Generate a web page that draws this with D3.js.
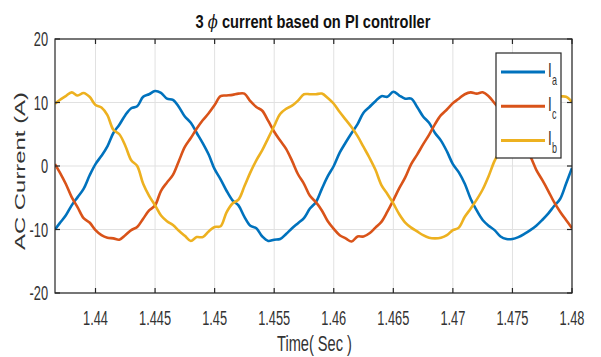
<!DOCTYPE html>
<html>
<head>
<meta charset="utf-8">
<script src="https://cdn.jsdelivr.net/npm/d3@7"></script>
<style>
  body { margin: 0; background: #fff; }
  svg { display: block; }
</style>
</head>
<body>
<div id="chart"></div>
<script>
// time axis (s)
const times = [
  1.4366, 1.437, 1.4375, 1.438, 1.4385, 1.439, 1.4395, 1.44, 1.4405, 1.441, 1.4415,
  1.442, 1.4425, 1.443, 1.4435, 1.444, 1.4445, 1.445, 1.4455, 1.446, 1.4465, 1.447,
  1.4475, 1.448, 1.4485, 1.449, 1.4495, 1.45, 1.4505, 1.451, 1.4515, 1.452, 1.4525,
  1.453, 1.4535, 1.454, 1.4545, 1.455, 1.4555, 1.456, 1.4565, 1.457, 1.4575, 1.458,
  1.4585, 1.459, 1.4595, 1.46, 1.4605, 1.461, 1.4615, 1.462, 1.4625, 1.463, 1.4635,
  1.464, 1.4645, 1.465, 1.4655, 1.466, 1.4665, 1.467, 1.4675, 1.468, 1.4685, 1.469,
  1.4695, 1.47, 1.4705, 1.471, 1.4715, 1.472, 1.4725, 1.473, 1.4735, 1.474, 1.4745,
  1.475, 1.4755, 1.476, 1.4765, 1.477, 1.4775, 1.478, 1.4785, 1.479, 1.4795, 1.48
];

// phase currents (A)
const ia = [
  -10.0, -9.0, -7.8, -6.2, -4.9, -3.6, -1.5, 0.3, 1.6, 3.1, 5.2,
  6.5, 8.0, 9.1, 9.4, 10.9, 11.3, 11.8, 11.5, 10.6, 10.4, 9.3,
  7.8, 6.8, 5.2, 3.6, 1.8, -0.5, -2.1, -3.9, -5.4, -6.2, -8.0,
  -9.4, -9.8, -11.1, -11.8, -11.6, -11.5, -10.7, -9.8, -9.0, -8.2, -6.7,
  -5.7, -3.6, -1.6, 0.0, 2.1, 3.7, 5.2, 6.6, 8.4, 9.3, 10.2,
  11.0, 10.9, 11.7, 11.1, 10.6, 10.6, 9.3, 7.8, 6.8, 5.2, 4.0,
  2.3, 0.3, -1.0, -2.8, -5.2, -7.0, -8.5, -9.4, -10.1, -11.1, -11.5,
  -11.5, -11.2, -10.7, -10.1, -9.4, -8.5, -7.5, -6.3, -5.2, -2.8, -0.3
];
const ic = [
  0.3, -1.0, -2.8, -4.9, -6.5, -8.2, -8.9, -10.1, -10.9, -11.3, -11.4,
  -11.6, -10.9, -10.1, -9.6, -8.3, -7.0, -6.2, -3.9, -2.6, -1.4, 0.8,
  3.0, 4.4, 5.9, 7.2, 8.3, 9.6, 11.0, 11.1, 11.2, 11.4, 11.4,
  10.2, 9.3, 8.7, 7.1, 5.4, 4.0, 2.7, 0.8, -1.3, -2.8, -4.7,
  -5.7, -7.0, -8.7, -9.9, -10.9, -11.4, -11.9, -11.1, -11.1, -10.6, -9.7,
  -8.8, -7.2, -5.4, -3.5, -1.8, 0.3, 1.8, 3.4, 4.9, 6.6, 8.0,
  8.9, 9.9, 10.6, 11.3, 11.6, 11.4, 11.6, 11.0, 9.9, 8.8, 7.6,
  6.0, 4.5, 3.0, 1.5, -0.6, -2.2, -3.9, -5.7, -7.2, -8.5, -9.8
];
const ib = [
  9.8, 10.4, 11.0, 11.6, 11.1, 11.5, 10.9, 9.6, 9.2, 8.0, 5.7,
  5.0, 3.2, 0.9, 0.0, -2.8, -4.7, -6.2, -7.8, -8.7, -9.3, -10.2,
  -11.0, -11.8, -11.2, -11.2, -10.3, -9.6, -9.5, -7.3, -5.9, -5.3, -3.2,
  -1.0, 0.9, 2.5, 4.4, 6.3, 8.2, 9.0, 9.5, 10.3, 11.3, 11.3,
  11.3, 11.4, 10.7, 9.8, 8.5, 7.3, 6.1, 4.7, 3.0, 1.3, -0.6,
  -3.0, -4.4, -5.9, -7.6, -8.9, -9.7, -10.3, -10.9, -11.3, -11.4, -11.3,
  -10.9, -10.1, -9.7, -8.0, -6.7, -5.3, -3.7, -1.6, 0.8, 2.5, 4.3,
  6.0, 7.5, 8.7, 9.7, 10.5, 11.0, 11.4, 11.5, 11.0, 10.9, 10.1
];

const xTicks = [1.44, 1.445, 1.45, 1.455, 1.46, 1.465, 1.47, 1.475, 1.48];
const xTickLabels = ["1.44", "1.445", "1.45", "1.455", "1.46", "1.465", "1.47", "1.475", "1.48"];
const yTicks = [-20, -10, 0, 10, 20];
const yTickLabels = ["-20", "-10", "0", "10", "20"];
const legendSubs = ["a", "c", "b"];

const series = [
  { values: ia, color: "#0072BD", sub: legendSubs[0] },
  { values: ic, color: "#D95319", sub: legendSubs[1] },
  { values: ib, color: "#EDB120", sub: legendSubs[2] }
];

const W = 601, H = 357;
const plot = { left: 55, top: 39, right: 572, bottom: 293 };
const axisColor = "#262626";
const font = "'Liberation Sans', Arial, sans-serif";

const svg = d3.select("#chart").append("svg")
  .attr("width", W)
  .attr("height", H);

svg.append("rect").attr("width", W).attr("height", H).attr("fill", "#fff");

const x = d3.scaleLinear().domain([1.4366, 1.48]).range([plot.left, plot.right]);
const y = d3.scaleLinear().domain([-20, 20]).range([plot.bottom, plot.top]);

// grid
svg.append("g").selectAll("line")
  .data(xTicks)
  .join("line")
  .attr("x1", d => x(d)).attr("x2", d => x(d))
  .attr("y1", plot.top).attr("y2", plot.bottom)
  .attr("stroke", "#e1e1e1").attr("stroke-width", 1);

svg.append("g").selectAll("line")
  .data(yTicks)
  .join("line")
  .attr("x1", plot.left).attr("x2", plot.right)
  .attr("y1", d => y(d)).attr("y2", d => y(d))
  .attr("stroke", "#e1e1e1").attr("stroke-width", 1);

// curves
svg.append("clipPath").attr("id", "clip")
  .append("rect")
  .attr("x", plot.left).attr("y", plot.top)
  .attr("width", plot.right - plot.left).attr("height", plot.bottom - plot.top);

const line = d3.line()
  .x((d, i) => x(times[i]))
  .y(d => y(d))
  .curve(d3.curveCatmullRom.alpha(0.5));

svg.append("g").attr("clip-path", "url(#clip)")
  .selectAll("path")
  .data(series)
  .join("path")
  .attr("d", d => line(d.values))
  .attr("fill", "none")
  .attr("stroke", d => d.color)
  .attr("stroke-width", 2.6)
  .attr("stroke-linejoin", "round");

// box + inward ticks
svg.append("rect")
  .attr("x", plot.left).attr("y", plot.top)
  .attr("width", plot.right - plot.left).attr("height", plot.bottom - plot.top)
  .attr("fill", "none").attr("stroke", axisColor).attr("stroke-width", 1.2);

const tickLen = 5;
const ticks = svg.append("g").attr("stroke", axisColor).attr("stroke-width", 1.2);
xTicks.forEach(t => {
  ticks.append("line").attr("x1", x(t)).attr("x2", x(t)).attr("y1", plot.bottom).attr("y2", plot.bottom - tickLen);
  ticks.append("line").attr("x1", x(t)).attr("x2", x(t)).attr("y1", plot.top).attr("y2", plot.top + tickLen);
});
yTicks.forEach(v => {
  ticks.append("line").attr("x1", plot.left).attr("x2", plot.left + tickLen).attr("y1", y(v)).attr("y2", y(v));
  ticks.append("line").attr("x1", plot.right).attr("x2", plot.right - tickLen).attr("y1", y(v)).attr("y2", y(v));
});

// tick labels (narrow, like the original)
const sx = 0.64;
svg.append("g").selectAll("text")
  .data(xTicks)
  .join("text")
  .attr("transform", d => `translate(${x(d)},325) scale(${sx},1)`)
  .attr("text-anchor", "middle")
  .attr("font-family", font).attr("font-size", 20)
  .attr("fill", "#333")
  .text((d, i) => xTickLabels[i]);

svg.append("g").selectAll("text")
  .data(yTicks)
  .join("text")
  .attr("transform", d => `translate(48,${y(d) + 7}) scale(${sx},1)`)
  .attr("text-anchor", "end")
  .attr("font-family", font).attr("font-size", 20)
  .attr("fill", "#333")
  .text((d, i) => yTickLabels[i]);

// squeeze a text to a given width
function fitWidth(sel, target, base, extra) {
  const len = sel.node().getComputedTextLength();
  sel.attr("transform", base + ` scale(${target / len},${extra || 1})`);
}

// title
const title = svg.append("text")
  .attr("text-anchor", "middle")
  .attr("font-family", font).attr("font-size", 18).attr("font-weight", "bold")
  .attr("fill", "#111");
title.append("tspan").text("3 ");
title.append("tspan").attr("font-style", "italic").attr("font-weight", "normal").attr("font-family", "'DejaVu Serif', serif").text("ϕ");
title.append("tspan").text(" current based on PI controller");
fitWidth(title, 235, "translate(313,28)");

// axis labels
const xl = svg.append("text")
  .attr("text-anchor", "middle")
  .attr("font-family", font).attr("font-size", 22)
  .attr("fill", "#333")
  .text("Time( Sec )");
fitWidth(xl, 75, "translate(314.5,351)");

const yl = svg.append("text")
  .attr("text-anchor", "middle")
  .attr("font-family", font).attr("font-size", 24)
  .attr("fill", "#333")
  .text("AC Current (A)");
fitWidth(yl, 158, "translate(25,171) rotate(-90)", 0.6);

// legend
const lg = svg.append("g");
lg.append("rect")
  .attr("x", 496).attr("y", 53).attr("width", 65).attr("height", 105)
  .attr("fill", "#fff").attr("stroke", axisColor).attr("stroke-width", 1.2);

series.forEach((s, i) => {
  const ly = 72 + i * 34.2;
  lg.append("line")
    .attr("x1", 501).attr("x2", 545).attr("y1", ly).attr("y2", ly)
    .attr("stroke", s.color).attr("stroke-width", 3);
  lg.append("text")
    .attr("transform", `translate(548,${ly + 5}) scale(${sx},1)`)
    .attr("font-family", font).attr("font-size", 21).attr("fill", "#333")
    .text("I");
  lg.append("text")
    .attr("transform", `translate(552,${ly + 13}) scale(${sx},1)`)
    .attr("font-family", font).attr("font-size", 14).attr("fill", "#333")
    .text(s.sub);
});
</script>
</body>
</html>
